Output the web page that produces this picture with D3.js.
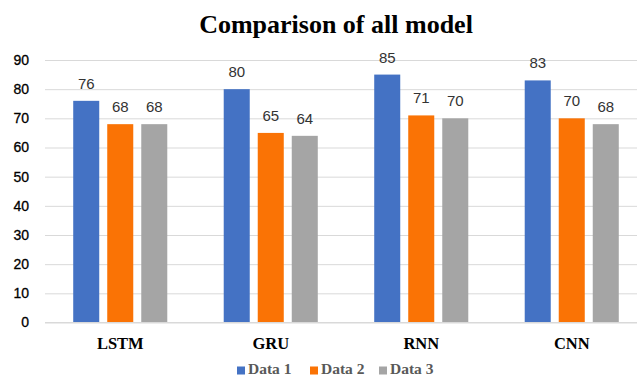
<!DOCTYPE html>
<html>
<head>
<meta charset="utf-8">
<script src="https://cdn.jsdelivr.net/npm/d3@7"></script>
<style>
  html, body { margin: 0; padding: 0; background: #fff; }
  svg { display: block; }
</style>
</head>
<body>
<svg id="chart" width="637" height="377"></svg>
<script>
// Model names along the x axis
const categories = ["LSTM", "GRU", "RNN", "CNN"];
// Series names and their values per model
const seriesNames = ["Data 1", "Data 2", "Data 3"];
const data1 = [76, 80, 85, 83];
const data2 = [68, 65, 71, 70];
const data3 = [68, 64, 70, 68];
const yTicks = [0, 10, 20, 30, 40, 50, 60, 70, 80, 90];
const colors = ["#4472C4", "#FA7305", "#A5A5A5"];

const seriesValues = [data1, data2, data3];
const rows = categories.map((c, i) => ({
  category: c,
  values: seriesNames.map((s, j) => ({ series: s, value: seriesValues[j][i] }))
}));

const svg = d3.select("#chart");
const plot = { left: 45, right: 647, top: 60, bottom: 322.5 };

const x0 = d3.scaleBand()
  .domain(categories)
  .range([plot.left, plot.right])
  .paddingInner(0.375)
  .paddingOuter(0.1875);

const x1 = d3.scaleBand()
  .domain(seriesNames)
  .range([0, x0.bandwidth()])
  .paddingInner(0.235);

const y = d3.scaleLinear()
  .domain([0, 90])
  .range([plot.bottom, plot.top]);

// Title
svg.append("text")
  .attr("x", 336)
  .attr("y", 33)
  .attr("text-anchor", "middle")
  .attr("font-family", "'Liberation Serif', 'Times New Roman', serif")
  .attr("font-weight", "bold")
  .attr("font-size", 26)
  .attr("fill", "#000")
  .text("Comparison of all model");

// Horizontal gridlines and y labels
const yAxis = d3.axisLeft(y)
  .tickValues(yTicks)
  .tickSize(-(637 - plot.left))
  .tickPadding(16);

const gy = svg.append("g")
  .attr("transform", `translate(${plot.left},0)`)
  .call(yAxis);
gy.select(".domain").remove();
gy.selectAll(".tick line").attr("stroke", "#d9d9d9").attr("stroke-width", 1);
gy.selectAll(".tick text")
  .attr("font-family", "'Liberation Sans', Arial, sans-serif")
  .attr("font-size", 14)
  .attr("fill", "#000")
  .attr("stroke", "#000")
  .attr("stroke-width", 0.3);

// Bars
const groups = svg.append("g")
  .selectAll("g")
  .data(rows)
  .join("g")
  .attr("transform", d => `translate(${x0(d.category)},0)`);

groups.selectAll("rect")
  .data(d => d.values)
  .join("rect")
  .attr("x", d => x1(d.series))
  .attr("y", d => y(d.value))
  .attr("width", x1.bandwidth())
  .attr("height", d => y(0) - y(d.value))
  .attr("fill", (d, i) => colors[i]);

// Value labels above each bar
groups.selectAll("text.value")
  .data(d => d.values)
  .join("text")
  .attr("class", "value")
  .attr("x", d => x1(d.series) + x1.bandwidth() / 2)
  .attr("y", d => y(d.value) - 12)
  .attr("text-anchor", "middle")
  .attr("font-family", "'Liberation Sans', Arial, sans-serif")
  .attr("font-size", 15)
  .attr("fill", "#333")
  .text(d => d.value);

// Category axis
const xAxis = d3.axisBottom(x0).tickSize(0).tickPadding(15);
const gx = svg.append("g")
  .attr("transform", `translate(0,${plot.bottom})`)
  .call(xAxis);
gx.select(".domain").remove();
gx.selectAll(".tick text")
  .attr("font-family", "'Liberation Serif', 'Times New Roman', serif")
  .attr("font-weight", "bold")
  .attr("font-size", 16.5)
  .attr("fill", "#000");

svg.append("line")
  .attr("x1", plot.left).attr("x2", 637)
  .attr("y1", y(0)).attr("y2", y(0))
  .attr("stroke", "#d9d9d9");

// Legend
const legendX = [237, 310, 379];
const legend = svg.append("g")
  .selectAll("g")
  .data(seriesNames)
  .join("g")
  .attr("transform", (d, i) => `translate(${legendX[i]},365)`);
legend.append("rect")
  .attr("width", 8).attr("height", 8)
  .attr("y", 1.5)
  .attr("fill", (d, i) => colors[i]);
legend.append("text")
  .attr("x", 11)
  .attr("y", 8.5)
  .attr("font-family", "'Liberation Serif', 'Times New Roman', serif")
  .attr("font-weight", "bold")
  .attr("font-size", 15.5)
  .attr("fill", "#595959")
  .text(d => d);
</script>
</body>
</html>
